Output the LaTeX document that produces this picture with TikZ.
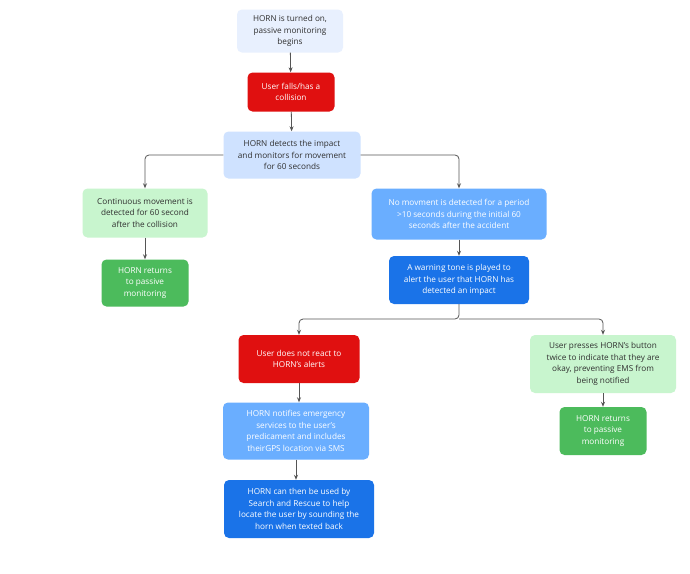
\documentclass[tikz,border=0pt]{standalone}
\usepackage{fontspec}
\setmainfont{Open Sans}
\usetikzlibrary{arrows.meta}
\definecolor{paleblue}{HTML}{E8F0FE}
\definecolor{lightblue}{HTML}{CFE2FF}
\definecolor{midblue}{HTML}{6AAEFF}
\definecolor{deepblue}{HTML}{1A73E8}
\definecolor{alertred}{HTML}{E01010}
\definecolor{palegreen}{HTML}{C8F5CE}
\definecolor{okgreen}{HTML}{4CBB5C}
\definecolor{wire}{HTML}{555555}
\definecolor{ink}{HTML}{303030}
\begin{document}
\begin{tikzpicture}[x=1pt,y=-1pt,
    box/.style={rounded corners=5pt, align=center, inner sep=0pt, text=ink, font=\fontsize{8.2}{11.5}\selectfont},
    dark/.style={box, text=white},
    link/.style={draw=wire, line width=0.8pt, -{Stealth[length=5pt,width=4pt]}, rounded corners=4pt}]
        \useasboundingbox (0,0) rectangle (690,573);
        \fill[white] (0,0) rectangle (690,573);
        \node[box, fill=paleblue, minimum width=106pt, minimum height=43pt] (start) at (290,31) {HORN is turned on,\\passive monitoring\\begins};
        \node[dark, fill=alertred, minimum width=87pt, minimum height=39pt] (fall) at (291,92) {User falls/has a\\collision};
        \node[box, fill=lightblue, minimum width=137pt, minimum height=47pt] (detect) at (292,155) {HORN detects the impact\\and monitors for movement\\for 60 seconds};
        \node[box, fill=palegreen, minimum width=125pt, minimum height=49pt] (moving) at (145,213) {Continuous movement is\\detected for 60 second\\after the collision};
        \node[dark, fill=okgreen, minimum width=87pt, minimum height=47pt] (back1) at (145,283) {HORN returns\\to passive\\monitoring};
        \node[dark, fill=midblue, minimum width=175pt, minimum height=51pt] (still) at (459,214) {No movment is detected for a period\\>10 seconds during the initial 60\\seconds after the accident};
        \node[dark, fill=deepblue, minimum width=140pt, minimum height=48pt] (tone) at (459,280) {A warning tone is played to\\alert the user that HORN has\\detected an impact};
        \node[dark, fill=alertred, minimum width=121pt, minimum height=48pt] (noreact) at (299,359) {User does not react to\\HORN's alerts};
        \node[dark, fill=midblue, minimum width=146pt, minimum height=57pt] (notify) at (296,431) {HORN notifies emergency\\services to the user's\\predicament and includes\\theirGPS location via SMS};
        \node[dark, fill=deepblue, minimum width=150pt, minimum height=58pt] (rescue) at (299,509) {HORN can then be used by\\Search and Rescue to help\\locate the user by sounding the\\horn when texted back};
        \node[box, fill=palegreen, minimum width=146pt, minimum height=58pt] (press) at (603,364) {User presses HORN's button\\twice to indicate that they are\\okay, preventing EMS from\\being notified};
        \node[dark, fill=okgreen, minimum width=87pt, minimum height=48pt] (back2) at (603,431) {HORN returns\\to passive\\monitoring};
        \coordinate (split) at (459,319);
        % connectors
        \draw[link] (start) -- (fall);
        \draw[link] (fall) -- (detect);
        \draw[link] (detect.west) -| (moving.north);
        \draw[link] (detect.east) -| (still.north);
        \draw[link] (moving) -- (back1);
        \draw[link] (still) -- (tone);
        \draw[link] (tone.south) -- (split) -| (noreact.north);
        \draw[link] (split) -| (press.north);
        \draw[link] (noreact.south) -- (noreact.south |- notify.north);
        \draw[link] (notify.south) -- (notify.south |- rescue.north);
        \draw[link] (press) -- (back2);
\end{tikzpicture}
\end{document}
